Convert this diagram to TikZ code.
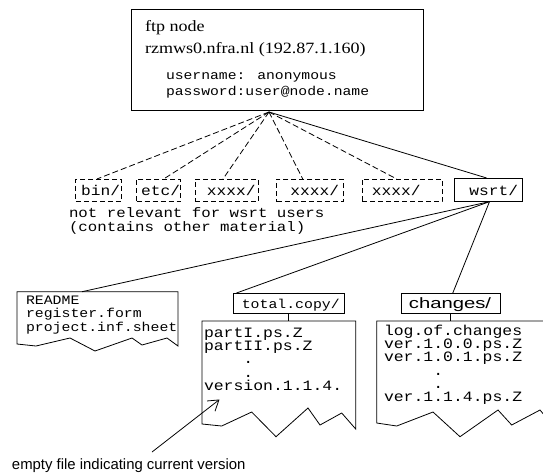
\documentclass[tikz,border=0pt]{standalone}
\usepackage{fontspec}
\setmainfont[FakeStretch=1.15]{Liberation Serif}
\newfontfamily\monofont[FakeStretch=1.15]{Liberation Mono}
\newfontfamily\sansfont{Liberation Sans}
\newfontfamily\widesans[FakeStretch=1.35]{Liberation Sans}
\usetikzlibrary{arrows.meta}

\tikzset{
  every node/.style={inner sep=0pt, outer sep=0pt},
  dirbox/.style={draw, dash pattern=on 5pt off 3pt},
  solidbox/.style={draw},
  link/.style={line width=0.8pt},
  dlink/.style={line width=0.8pt, dash pattern=on 6pt off 3pt},
  hosttext/.style={font=\fontsize{15.7}{18}\selectfont, anchor=base west},
  logintext/.style={font=\monofont\fontsize{12.8}{15}\selectfont, anchor=base west},
  dirname/.style={font=\monofont\fontsize{14.1}{16}\selectfont, anchor=base east},
  notetext/.style={font=\monofont\fontsize{13.7}{16}\selectfont, anchor=base west},
  filetext/.style={font=\monofont\fontsize{14.3}{16}\selectfont, anchor=base west},
  readtext/.style={font=\monofont\fontsize{12.9}{15}\selectfont, anchor=base west},
}

\begin{document}
\begin{tikzpicture}[x=1pt, y=-1pt, line width=0.8pt]
\useasboundingbox (0,0) rectangle (543,475);

% ftp host box
\node[solidbox, minimum width=292pt, minimum height=101pt] (host) at (277,59.5) {};
\node[hosttext] (h1) at (145,31.7) {ftp node};
\node[hosttext] (h2) at (145,53.3) {rzmws0.nfra.nl (192.87.1.160)};
\node[logintext] (h3) at (166,79) {username: anonymous};
\node[logintext] (h4) at (166,95) {password:user@node.name};
\coordinate (apex) at (269,112);

% top-level directories
\node[dirbox, minimum width=45.3pt, minimum height=22.7pt] (bin) at (98.4,190.3) {};
\node[dirname] (bint) at (120,195.5) {bin/};
\node[dirbox, minimum width=44pt, minimum height=22.7pt] (etc) at (158.7,190.3) {};
\node[dirname] (etct) at (180,195.5) {etc/};
\node[dirbox, minimum width=63pt, minimum height=22.7pt] (xa) at (226.5,190.3) {};
\node[dirname] (xat) at (255.5,195.5) {xxxx/};
\node[dirbox, minimum width=66.5pt, minimum height=22.7pt] (xb) at (310,190.3) {};
\node[dirname] (xbt) at (339,195.5) {xxxx/};
\node[dirbox, minimum width=80pt, minimum height=22.7pt] (xc) at (402,190.3) {};
\node[dirname] (xct) at (420.5,195.5) {xxxx/};
\node[solidbox, minimum width=67.5pt, minimum height=23.7pt] (wsrt) at (488.5,189.8) {};
\node[dirname] (wsrtt) at (518,195.5) {wsrt/};

\node[notetext] (n1) at (69,217) {not relevant for wsrt users};
\node[notetext] (n2) at (69,231.5) {(contains other material)};

\draw[dlink] (apex) -- ([xshift=-1.4pt]bin.north);
\draw[dlink] (apex) -- ([xshift=5pt]etc.north);
\draw[dlink] (apex) -- ([xshift=-3.5pt]xa.north);
\draw[dlink] (apex) -- ([xshift=-7.3pt]xb.north);
\draw[dlink] (apex) -- ([xshift=-5.3pt]xc.north);
\draw[link] (apex) -- ([xshift=-2pt]wsrt.north);

% README sheet
\draw (178,291.7) -- (17,291.7) -- (17,344) -- (36,346) -- (70,338) -- (95,351)
      -- (132,338) -- (142,345) -- (167,338) -- (178,346) -- cycle;
\coordinate (readme) at (82,291.7);
\node[readtext] (r1) at (26,304) {README};
\node[readtext] (r2) at (26,317.5) {register.form};
\node[readtext] (r3) at (26,331) {project.inf.sheet};

% total.copy directory
\node[solidbox, minimum width=111pt, minimum height=20pt] (tc) at (288.5,303) {};
\node[font=\monofont\fontsize{12.9}{15}\selectfont, anchor=base] (tct) at (290.8,308) {total.copy/};
\draw (355.7,321) -- (202,321) -- (202,424) -- (221.7,426) -- (251.7,412) -- (276,436.7)
      -- (308,408) -- (320,425) -- (341.7,413) -- (355.7,429) -- cycle;
\coordinate (tcbox) at (288.5,321);
\node[filetext] (t1) at (204,337) {partI.ps.Z};
\node[filetext] (t2) at (204,350.3) {partII.ps.Z};
\node[filetext] (t3) at (204,363.6) {\phantom{xxxx}.};
\node[filetext] (t4) at (204,377) {\phantom{xxxx}.};
\node[filetext] (t5) at (204,390.3) {version.1.1.4.};

% changes directory
\node[solidbox, minimum width=98.3pt, minimum height=20pt] (ch) at (450.8,303) {};
\node[font=\widesans\fontsize{15}{18}\selectfont, anchor=base] (cht) at (450,308.5) {changes/};
\draw (545,321) -- (376.7,321) -- (376.7,423) -- (396.7,426) -- (433,412) -- (460,436.7)
      -- (498,410) -- (511.7,425) -- (540,410) -- (545,416);
\coordinate (chbox) at (450.8,321);
\node[filetext] (c1) at (384,335) {log.of.changes};
\node[filetext] (c2) at (384,348.3) {ver.1.0.0.ps.Z};
\node[filetext] (c3) at (384,361.6) {ver.1.0.1.ps.Z};
\node[filetext] (c4) at (384,375) {\phantom{xxxxx}.};
\node[filetext] (c5) at (384,388.3) {\phantom{xxxxx}.};
\node[filetext] (c6) at (384,401.6) {ver.1.1.4.ps.Z};

% links below wsrt/
\draw[link] ([xshift=1pt]wsrt.south) -- (readme);
\draw[link] ([xshift=1pt]wsrt.south) -- ([xshift=3.5pt]tc.north west);
\draw[link] ([xshift=1pt]wsrt.south) -- ([xshift=2pt]ch.north);
\draw[link] (tc.south) -- (tcbox);
\draw[link] (ch.south) -- (chbox);

% annotation
\node[font=\sansfont\fontsize{14.9}{18}\selectfont, anchor=base west] (note) at (12,469)
  {empty file indicating current version};
\coordinate (arrowfoot) at (152,452);
\draw[link, -{Straight Barb[length=10pt, width=13pt]}] (arrowfoot) -- (219.5,399.5);
\end{tikzpicture}
\end{document}
